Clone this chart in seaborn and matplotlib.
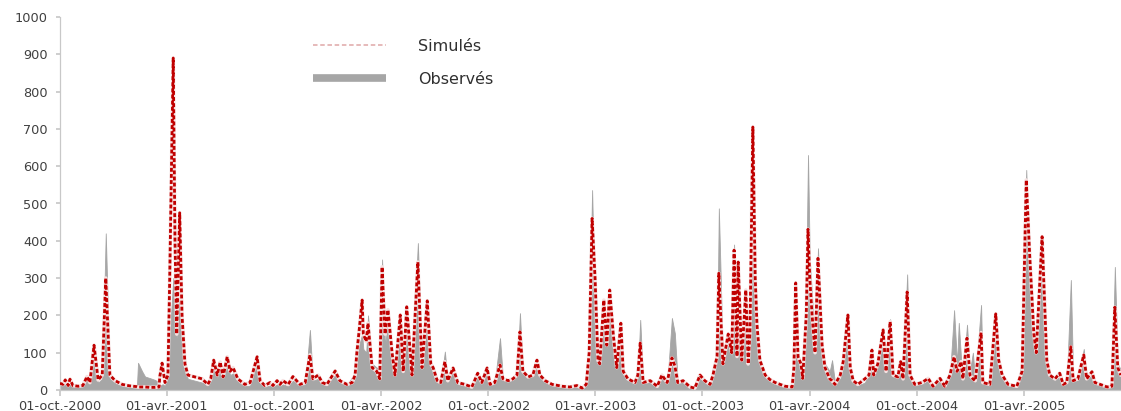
import numpy as np
import pandas as pd
import matplotlib
matplotlib.use("Agg")
import matplotlib.pyplot as plt
import seaborn as sns
from matplotlib.lines import Line2D

# ---- data (day index from 01-oct.-2000, simulated and observed discharge) ----
start_date = "2000-10-01"
days = [0, 5, 9, 14, 17, 22, 31, 39, 46, 51, 58, 65, 72, 78, 85, 94, 106, 119, 131, 133,
        140, 145, 153, 162, 169, 170, 174, 176, 179, 184, 187, 193, 196, 199, 204, 208, 213, 218, 230, 242,
        252, 257, 262, 268, 273, 278, 285, 290, 295, 303, 315, 324, 336, 341, 349, 358, 363, 370, 375, 380,
        389, 397, 409, 418, 426, 431, 440, 447, 455, 469, 477, 489, 498, 503, 506, 510, 515, 517, 522, 525,
        532, 540, 545, 549, 554, 559, 566, 571, 580, 585, 591, 600, 610, 617, 626, 632, 636, 643, 649, 656,
        661, 670, 678, 690, 702, 712, 719, 728, 733, 741, 750, 755, 764, 772, 779, 784, 789, 798, 806, 813,
        818, 827, 839, 856, 869, 881, 890, 897, 902, 907, 912, 917, 920, 927, 932, 937, 943, 949, 956, 960,
        968, 980, 985, 989, 994, 1006, 1018, 1026, 1035, 1043, 1048, 1053, 1062, 1074, 1082, 1091, 1099, 1108, 1113, 1120,
        1123, 1130, 1139, 1145, 1149, 1154, 1156, 1162, 1169, 1173, 1176, 1181, 1185, 1188, 1193, 1202, 1210, 1219, 1236, 1248,
        1251, 1254, 1258, 1263, 1266, 1272, 1275, 1278, 1282, 1287, 1292, 1299, 1304, 1312, 1316, 1321, 1330, 1335, 1343, 1347,
        1352, 1360, 1372, 1379, 1384, 1387, 1394, 1403, 1408, 1415, 1420, 1428, 1433, 1437, 1444, 1449, 1457, 1469, 1480, 1488,
        1500, 1508, 1517, 1524, 1529, 1532, 1536, 1539, 1546, 1551, 1556, 1560, 1570, 1573, 1585, 1595, 1600, 1606, 1616, 1631,
        1640, 1647, 1653, 1660, 1664, 1674, 1682, 1687, 1696, 1704, 1710, 1716, 1723, 1727, 1735, 1745, 1750, 1759, 1764, 1773,
        1785, 1793, 1798, 1803, 1808]
simules = [18, 15, 27, 12, 29, 12, 10, 12, 36, 20, 120, 27, 40, 300, 40, 25, 15, 11, 9, 8,
           8, 8, 7, 7, 8, 35, 72, 50, 20, 40, 300, 890, 400, 150, 475, 200, 70, 40, 35, 30,
           15, 30, 80, 40, 75, 35, 89, 50, 60, 30, 15, 20, 89, 25, 12, 20, 12, 25, 15, 25,
           15, 36, 15, 20, 94, 30, 40, 20, 15, 51, 25, 15, 20, 40, 100, 161, 241, 150, 130, 179,
           60, 50, 30, 330, 150, 215, 100, 40, 201, 50, 223, 40, 343, 60, 239, 70, 60, 25, 20, 76,
           25, 59, 20, 15, 8, 45, 20, 59, 15, 20, 67, 30, 25, 30, 40, 156, 50, 35, 40, 80,
           40, 25, 15, 10, 8, 12, 5, 15, 100, 460, 300, 80, 70, 241, 120, 268, 150, 60, 179, 50,
           30, 20, 40, 126, 20, 25, 10, 40, 20, 86, 65, 20, 25, 8, 5, 40, 25, 15, 40, 90,
           313, 70, 150, 100, 375, 90, 343, 80, 268, 70, 150, 705, 300, 175, 80, 40, 28, 20, 10, 8,
           60, 287, 89, 70, 31, 200, 431, 300, 200, 100, 353, 120, 60, 30, 25, 15, 40, 76, 201, 60,
           25, 15, 30, 40, 107, 40, 70, 161, 50, 183, 40, 35, 76, 30, 263, 40, 15, 20, 31, 10,
           31, 10, 40, 89, 50, 60, 76, 30, 139, 40, 30, 25, 154, 20, 15, 204, 80, 40, 15, 10,
           50, 563, 357, 150, 100, 411, 80, 40, 30, 45, 15, 20, 116, 25, 30, 94, 30, 49, 20, 15,
           8, 10, 222, 60, 40]
observes = [10, 12, 15, 10, 18, 8, 8, 10, 30, 15, 110, 20, 30, 420, 30, 18, 10, 7, 5, 73,
            50, 36, 32, 27, 20, 10, 15, 15, 10, 60, 140, 300, 170, 140, 250, 150, 50, 30, 25, 20,
            12, 25, 70, 30, 60, 30, 70, 40, 45, 22, 10, 12, 70, 18, 8, 12, 8, 15, 10, 15,
            10, 25, 12, 15, 161, 25, 30, 15, 12, 40, 20, 12, 35, 45, 80, 120, 150, 110, 100, 200,
            70, 60, 50, 350, 120, 180, 80, 60, 170, 60, 200, 50, 394, 60, 220, 60, 50, 20, 15, 103,
            20, 55, 15, 10, 5, 35, 15, 45, 12, 20, 139, 30, 25, 30, 40, 206, 45, 35, 35, 65,
            35, 20, 12, 8, 6, 8, 5, 20, 150, 536, 200, 90, 80, 200, 110, 230, 110, 70, 150, 50,
            30, 18, 40, 188, 20, 20, 8, 30, 15, 193, 152, 20, 20, 6, 5, 30, 20, 15, 60, 100,
            487, 80, 120, 90, 390, 90, 300, 80, 240, 80, 150, 680, 200, 150, 80, 35, 22, 15, 8, 6,
            70, 280, 100, 70, 40, 300, 630, 350, 250, 120, 380, 110, 70, 50, 80, 20, 30, 60, 180, 50,
            20, 12, 20, 45, 100, 40, 60, 140, 40, 190, 35, 30, 60, 25, 310, 30, 12, 15, 25, 8,
            25, 8, 40, 214, 70, 180, 80, 30, 175, 50, 100, 25, 228, 25, 12, 200, 70, 40, 12, 8,
            80, 590, 300, 120, 90, 380, 70, 40, 25, 35, 15, 18, 295, 30, 25, 110, 25, 40, 15, 12,
            6, 8, 330, 70, 55]
tick_dates = ["2000-10-01", "2001-04-01", "2001-10-01", "2002-04-01", "2002-10-01",
              "2003-04-01", "2003-10-01", "2004-04-01", "2004-10-01", "2005-04-01"]
tick_labels = ["01-oct.-2000", "01-avr.-2001", "01-oct.-2001", "01-avr.-2002", "01-oct.-2002",
               "01-avr.-2003", "01-oct.-2003", "01-avr.-2004", "01-oct.-2004", "01-avr.-2005"]
y_ticks = [0, 100, 200, 300, 400, 500, 600, 700, 800, 900, 1000]
series_names = ["Simulés", "Observés"]

t0 = pd.Timestamp(start_date)
df = pd.DataFrame({
    "date": t0 + pd.to_timedelta(days, unit="D"),
    "sim": simules,
    "obs": observes,
})

sns.set_theme(style="white")
plt.rcParams["font.family"] = ["DejaVu Sans"]

fig = plt.figure(figsize=(11.21, 4.11), dpi=100)
ax = fig.add_axes([60 / 1121, 21 / 411, 1061 / 1121, 373 / 411])

gray = "#a6a6a6"
ax.fill_between(df["date"], 0, df["obs"], color=gray, linewidth=0.6, edgecolor=gray, zorder=1)
sns.lineplot(data=df, x="date", y="sim", ax=ax, color="#f6e2e2", linewidth=2.6, zorder=2,
             legend=False)
sns.lineplot(data=df, x="date", y="sim", ax=ax, color="#c00000", linewidth=2.0, zorder=3,
             linestyle=(0, (1.4, 0.8)), legend=False)

ax.set_xlim(t0, t0 + pd.Timedelta(days=1808.5))
ax.set_ylim(0, 1000)
ax.set_yticks(y_ticks)
ax.set_yticklabels([str(v) for v in y_ticks])
ax.set_xticks(pd.to_datetime(tick_dates))
ax.set_xticklabels(tick_labels)
ax.set_xlabel("")
ax.set_ylabel("")

for s in ["top", "right"]:
    ax.spines[s].set_visible(False)
for s in ["left", "bottom"]:
    ax.spines[s].set_color("#c8c8c8")
    ax.spines[s].set_linewidth(0.9)
ax.tick_params(axis="x", which="both", length=4, color="#c8c8c8", labelsize=9.3,
               labelcolor="#404040", pad=3, direction="out", bottom=True)
ax.tick_params(axis="y", which="both", length=3, color="#c8c8c8", labelsize=9.3,
               labelcolor="#404040", pad=6, direction="out", left=True)
ax.grid(False)

handles = [Line2D([0], [0], color="#e4b4b4", linewidth=1.3, linestyle=(0, (2.5, 1.5))),
           Line2D([0], [0], color=gray, linewidth=5.5, solid_capstyle="butt")]
leg = ax.legend(handles, series_names, loc="upper left",
                bbox_to_anchor=((313 - 60) / 1061, (390 - 39) / 373),
                frameon=False, fontsize=11.5, handlelength=4.6, handletextpad=2.0,
                labelspacing=1.1, borderpad=0, borderaxespad=0)
for txt in leg.get_texts():
    txt.set_color("#303030")

fig.savefig("out.png", dpi=100)
